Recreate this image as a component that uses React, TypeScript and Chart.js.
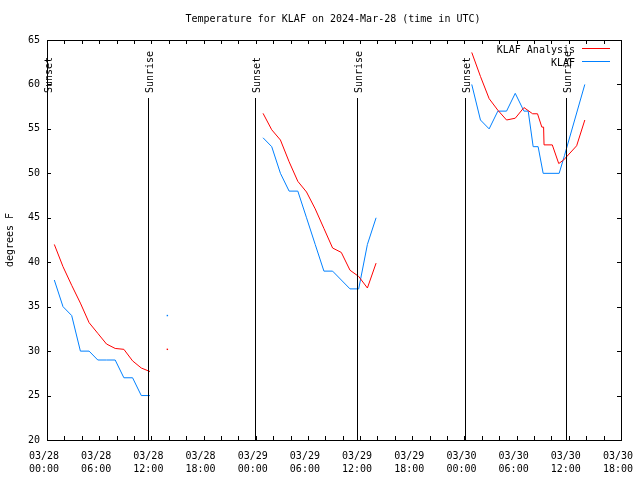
import React, { useEffect, useRef } from 'react';
import { Chart, registerables } from 'chart.js';

Chart.register(...registerables);

const TITLE = 'Temperature for KLAF on 2024-Mar-28 (time in UTC)';
const Y_LABEL = 'degrees F';

// x ticks (hours since 03/28 00:00 UTC)
const X_TICK_LABELS = [
  ['03/28', '00:00'], ['03/28', '06:00'], ['03/28', '12:00'], ['03/28', '18:00'],
  ['03/29', '00:00'], ['03/29', '06:00'], ['03/29', '12:00'], ['03/29', '18:00'],
  ['03/30', '00:00'], ['03/30', '06:00'], ['03/30', '12:00'], ['03/30', '18:00'],
];

// Sun events (hours since 03/28 00:00 UTC)
const SUNSET_HOURS = [0.0, 23.92, 48.05];
const SUNRISE_HOURS = [11.65, 35.67, 59.66];

// KLAF Analysis (red)
const analysisHours = [
  0.84, 1.84, 2.84, 3.84, 4.84, 5.84, 6.84, 7.84, 8.84, 9.84, 10.84, 11.84,
  12.84, 13.84, 14.84,
  24.84, 25.84, 26.84, 27.84, 28.84, 29.84, 30.84, 31.84, 32.84, 33.84, 34.84, 35.84, 36.84, 37.84,
  38.84,
  48.84, 49.84, 50.84, 51.84, 52.84, 53.84, 54.84, 55.84, 56.4, 56.9, 57.1, 57.15, 58.1, 58.84, 59.4, 60.9, 61.84,
];
const analysisTemps = [
  42.0, 39.5, 37.4, 35.4, 33.2, 32.0, 30.8, 30.3, 30.2, 28.9, 28.1, 27.7,
  null, 30.2, null,
  56.75, 54.9, 53.75, 51.3, 49.1, 47.9, 46.0, 43.8, 41.6, 41.1, 39.1, 38.4, 37.1, 39.9,
  null,
  63.6, 60.9, 58.4, 57.1, 56.0, 56.2, 57.4, 56.7, 56.7, 55.2, 55.2, 53.2, 53.2, 51.1, 51.5, 53.1, 56.0,
];

// KLAF observations (blue)
const obsHours = [
  0.84, 1.84, 2.84, 3.84, 4.84, 5.84, 6.84, 7.84, 8.84, 9.84, 10.84, 11.84,
  12.84, 13.84, 14.84,
  24.84, 25.84, 26.84, 27.84, 28.84, 29.84, 30.84, 31.84, 32.84, 33.84, 34.84, 35.84, 36.84, 37.84,
  38.84,
  48.84, 49.84, 50.84, 51.84, 52.84, 53.84, 54.84, 55.33, 55.9, 56.47, 57.05, 58.89, 59.5, 61.84,
];
const obsTemps = [
  38, 35, 34, 30, 30, 29, 29, 29, 27, 27, 25, 25,
  null, 34, null,
  54, 53, 50, 48, 48, 45, 42, 39, 39, 38, 37, 37, 42, 45,
  null,
  60, 56, 55, 57, 57, 59, 57, 57, 53, 53, 50, 50, 52, 60,
];

const FONT = "'DejaVu Sans Mono', 'Liberation Mono', monospace";

const toPoints = (hs: number[], vs: (number | null)[]) => hs.map((h, i) => ({ x: h, y: vs[i] }));

const isolatedRadius = (ctx: any) => {
  const d = ctx.dataset.data as { x: number; y: number | null }[];
  const i = ctx.dataIndex;
  const cur = d[i];
  if (!cur || cur.y == null) return 0;
  const prev = d[i - 1];
  const next = d[i + 1];
  const prevNull = !prev || prev.y == null;
  const nextNull = !next || next.y == null;
  return prevNull && nextNull ? 1 : 0;
};

const overlayPlugin = {
  id: 'overlay',
  afterDraw(chart: any) {
    const { ctx, chartArea } = chart;
    const xs = chart.scales.x;
    const ys = chart.scales.y;
    const { left, right, top, bottom } = chartArea;
    ctx.save();
    ctx.strokeStyle = '#000';
    ctx.lineWidth = 1;
    // frame
    ctx.strokeRect(Math.round(left) + 0.5, Math.round(top) + 0.5, Math.round(right - left), Math.round(bottom - top));
    // x ticks every 2 hours, inward, top and bottom
    ctx.beginPath();
    for (let h = 0; h <= 66; h += 2) {
      const px = Math.round(xs.getPixelForValue(h)) + 0.5;
      ctx.moveTo(px, bottom);
      ctx.lineTo(px, bottom - 4);
      ctx.moveTo(px, top);
      ctx.lineTo(px, top + 4);
    }
    // y ticks every 5
    for (let v = 20; v <= 65; v += 5) {
      const py = Math.round(ys.getPixelForValue(v)) + 0.5;
      ctx.moveTo(left, py);
      ctx.lineTo(left + 4, py);
      ctx.moveTo(right, py);
      ctx.lineTo(right - 4, py);
    }
    ctx.stroke();

    // sunrise/sunset lines
    ctx.font = `10px ${FONT}`;
    ctx.fillStyle = '#000';
    const drawEvent = (h: number, label: string) => {
      const px = Math.round(xs.getPixelForValue(h)) + 0.5;
      ctx.beginPath();
      ctx.moveTo(px, 98);
      ctx.lineTo(px, bottom);
      ctx.stroke();
      ctx.save();
      ctx.translate(px + 1.5, 93);
      ctx.rotate(-Math.PI / 2);
      ctx.textAlign = 'left';
      ctx.textBaseline = 'middle';
      ctx.fillText(label, 0, 0);
      ctx.restore();
    };
    SUNSET_HOURS.forEach((h) => drawEvent(h, 'Sunset'));
    SUNRISE_HOURS.forEach((h) => drawEvent(h, 'Sunrise'));

    // legend
    chart.data.datasets.forEach((ds: any, i: number) => {
      const y = 50 + 13 * i;
      ctx.textAlign = 'right';
      ctx.textBaseline = 'middle';
      ctx.fillStyle = '#000';
      ctx.fillText(ds.label, 575, y);
      ctx.strokeStyle = ds.borderColor;
      ctx.beginPath();
      ctx.moveTo(582, y - 1.5);
      ctx.lineTo(610, y - 1.5);
      ctx.stroke();
    });

    // title and y label
    ctx.fillStyle = '#000';
    ctx.textAlign = 'center';
    ctx.textBaseline = 'middle';
    ctx.font = `10px ${FONT}`;
    ctx.fillText(TITLE, 333, 19.5);
    ctx.save();
    ctx.translate(10, 240);
    ctx.rotate(-Math.PI / 2);
    ctx.fillText(Y_LABEL, 0, 0);
    ctx.restore();
    ctx.restore();
  },
};

export default function App() {
  const ref = useRef<HTMLCanvasElement | null>(null);
  useEffect(() => {
    if (!ref.current) return;
    const chart = new Chart(ref.current, {
      type: 'line',
      data: {
        datasets: [
          {
            label: 'KLAF Analysis',
            data: toPoints(analysisHours, analysisTemps) as any,
            borderColor: '#ff0000',
            backgroundColor: '#ff0000',
            borderWidth: 1,
            pointRadius: isolatedRadius,
            pointStyle: 'rect',
            pointBorderWidth: 0,
            tension: 0,
            spanGaps: false,
          },
          {
            label: 'KLAF',
            data: toPoints(obsHours, obsTemps) as any,
            borderColor: '#0080ff',
            backgroundColor: '#0080ff',
            borderWidth: 1,
            pointRadius: isolatedRadius,
            pointStyle: 'rect',
            pointBorderWidth: 0,
            tension: 0,
            spanGaps: false,
          },
        ],
      },
      options: {
        responsive: false,
        animation: false,
        layout: { padding: { top: 40, right: 19, left: 0, bottom: 0 } },
        plugins: { legend: { display: false }, tooltip: { enabled: false }, title: { display: false } },
        scales: {
          x: {
            type: 'linear',
            min: 0,
            max: 66,
            grid: { display: false, drawTicks: false },
            border: { display: false },
            ticks: {
              stepSize: 6,
              autoSkip: false,
              maxRotation: 0,
              padding: 10,
              color: '#000',
              font: { family: FONT, size: 10, lineHeight: 1.3 },
              callback: (v: any) => (X_TICK_LABELS[Math.round(Number(v) / 6)] ?? []).map((s) => s + ' '),
            },
            afterFit: (s: any) => {
              s.height = 40;
              s.paddingLeft = 0;
              s.paddingRight = 0;
            },
          },
          y: {
            min: 20,
            max: 65,
            grid: { display: false, drawTicks: false },
            border: { display: false },
            ticks: {
              stepSize: 5,
              padding: 7,
              color: '#000',
              font: { family: FONT, size: 10 },
            },
            afterFit: (s: any) => {
              s.width = 47;
              s.paddingTop = 0;
              s.paddingBottom = 0;
            },
          },
        },
      },
      plugins: [overlayPlugin],
    });
    return () => chart.destroy();
  }, []);
  return (
    <div style={{ position: 'absolute', left: 0, top: 0, width: 640, height: 480, background: '#fff' }}>
      <canvas ref={ref} width={640} height={480} style={{ display: 'block' }} />
    </div>
  );
}
